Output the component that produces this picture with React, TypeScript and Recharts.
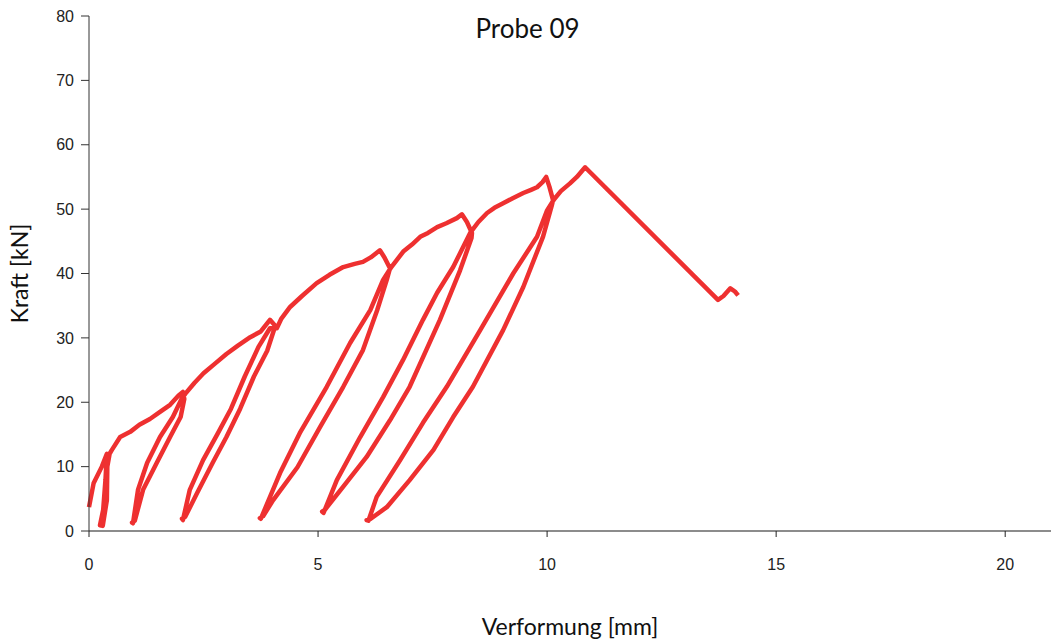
import { LineChart, Line, XAxis, YAxis } from 'recharts'

const firstLoading = [
  [0, 3.7], [0.1, 7.4], [0.28, 10], [0.39, 12],
  [0.36, 8], [0.31, 3.3], [0.24, 0.9], [0.3, 0.8],
  [0.39, 4.8], [0.4, 10], [0.45, 12],
  [0.5, 12.6], [0.68, 14.6], [0.9, 15.4], [1.1, 16.5], [1.33, 17.4], [1.55, 18.5],
  [1.77, 19.6], [1.95, 21], [2.05, 21.6],
]
const cycle1 = [
  [2.08, 20.5], [2.0, 17.7], [1.77, 14.6], [1.48, 10.6], [1.18, 6.4], [1.0, 1.6], [0.94, 1.3],
  [0.96, 1.2], [1.07, 6.4], [1.27, 10.6], [1.55, 14.6], [1.83, 17.7], [2.02, 20.5], [2.1, 21.3],
]
const loading2 = [
  [2.3, 23], [2.5, 24.5], [2.75, 26], [3.0, 27.5], [3.25, 28.8], [3.52, 30.1], [3.75, 31],
  [3.95, 32.8], [4.05, 32],
]
const cycle2 = [
  [4.05, 31.5], [3.89, 28], [3.6, 24], [3.3, 19], [3.0, 14.6], [2.7, 10.6], [2.36, 5.9], [2.1, 2.2], [2.03, 1.9],
  [2.05, 1.7], [2.2, 6.4], [2.49, 11], [2.8, 15], [3.1, 19], [3.4, 24], [3.7, 28.6], [3.95, 31.5], [4.1, 31.5],
]
const loading3 = [
  [4.2, 33], [4.39, 34.8], [4.65, 36.5], [4.97, 38.5], [5.25, 39.8], [5.55, 41], [5.8, 41.5],
  [5.98, 41.8], [6.15, 42.5], [6.35, 43.6], [6.45, 42.5], [6.57, 40.8],
]
const cycle3 = [
  [6.5, 39], [6.29, 34.3], [5.98, 28.1], [5.55, 22.4], [5.04, 16.1], [4.55, 9.9], [4.02, 4.8], [3.8, 2.3], [3.73, 2.0],
  [3.75, 1.9], [4.17, 9], [4.6, 15.2], [5.19, 22.4], [5.7, 29.2], [6.14, 34.3], [6.42, 39], [6.6, 41],
]
const loading4 = [
  [6.86, 43.4], [7.05, 44.5], [7.23, 45.7], [7.4, 46.3], [7.6, 47.2], [7.8, 47.8], [8.03, 48.6],
  [8.14, 49.2], [8.25, 48], [8.36, 46.3],
]
const cycle4 = [
  [8.35, 45.5], [8.1, 40.5], [7.66, 32.8], [7.0, 22.4], [6.57, 17.2], [6.06, 11.5], [5.55, 6.9], [5.15, 3.3], [5.09, 3.0],
  [5.12, 2.8], [5.41, 7.9], [5.92, 14.6], [6.42, 20.8], [6.85, 26.5], [7.29, 32.8], [7.6, 37], [7.95, 41], [8.32, 46.3],
]
const loading5 = [
  [8.5, 48], [8.69, 49.4], [8.85, 50.2], [9.04, 50.9], [9.25, 51.7], [9.48, 52.5], [9.65, 53],
  [9.78, 53.4], [9.9, 54.2], [9.98, 55], [10.05, 53.5], [10.13, 51.4],
]
const cycle5 = [
  [10.1, 50.5], [9.91, 45.7], [9.48, 37.9], [9.04, 31.2], [8.38, 22.4], [7.95, 17.7], [7.52, 12.6], [7.0, 7.9],
  [6.5, 3.7], [6.15, 1.9], [6.06, 1.7],
  [6.1, 1.6], [6.28, 5.3], [6.79, 11], [7.29, 16.8], [7.81, 22.4], [8.54, 31.2], [9.26, 40], [9.78, 45.7],
  [10.0, 49.8], [10.15, 51.5],
]
const failure = [
  [10.3, 52.8], [10.5, 54], [10.65, 55], [10.83, 56.5],
  [13.73, 35.9], [13.85, 36.5], [14.0, 37.7], [14.1, 37.2], [14.17, 36.6],
]

const xTicks = [0, 5, 10, 15, 20]
const yTicks = [0, 10, 20, 30, 40, 50, 60, 70, 80]

const data = [
  ...firstLoading, ...cycle1, ...loading2, ...cycle2, ...loading3, ...cycle3,
  ...loading4, ...cycle4, ...loading5, ...cycle5, ...failure,
].map(([x, y]) => ({ x, y }))

const tickFont = { fontSize: 16, fontFamily: 'Liberation Sans', fill: '#222' }
const labelFont = { fontSize: 23, fontFamily: 'Lato', fill: '#111' }

export default function App() {
  return (
    <div style={{ position: 'absolute', left: 0, top: 0, width: 1051, height: 643, background: '#fff' }}>
      <div
        style={{
          position: 'absolute',
          left: 0,
          width: 1055,
          top: 12,
          textAlign: 'center',
          fontFamily: 'Lato',
          fontSize: 26,
          color: '#111',
        }}
      >
        Probe 09
      </div>
      <LineChart width={1051} height={643} data={data} margin={{ top: 16, right: 0, left: 0, bottom: 0 }}>
        <XAxis
          type="number"
          dataKey="x"
          domain={[0, 21]}
          ticks={xTicks}
          interval={0}
          height={112}
          stroke="#666"
          strokeWidth={1.5}
          tickSize={6}
          tickMargin={22}
          tick={tickFont}
          tickLine={{ stroke: '#222', strokeWidth: 1 }}
          label={{ value: 'Verformung [mm]', position: 'insideBottom', offset: 8, style: labelFont }}
        />
        <YAxis
          type="number"
          dataKey="y"
          domain={[0, 80]}
          ticks={yTicks}
          interval={0}
          width={89}
          stroke="#333"
          tickSize={8}
          tickMargin={7}
          tick={tickFont}
          label={{
            value: 'Kraft [kN]',
            angle: -90,
            position: 'insideLeft',
            offset: 20,
            style: { ...labelFont, textAnchor: 'middle' },
          }}
        />
        <Line
          type="linear"
          dataKey="y"
          stroke="#EE3030"
          strokeWidth={4.5}
          strokeLinejoin="round"
          dot={false}
          isAnimationActive={false}
        />
      </LineChart>
    </div>
  )
}
